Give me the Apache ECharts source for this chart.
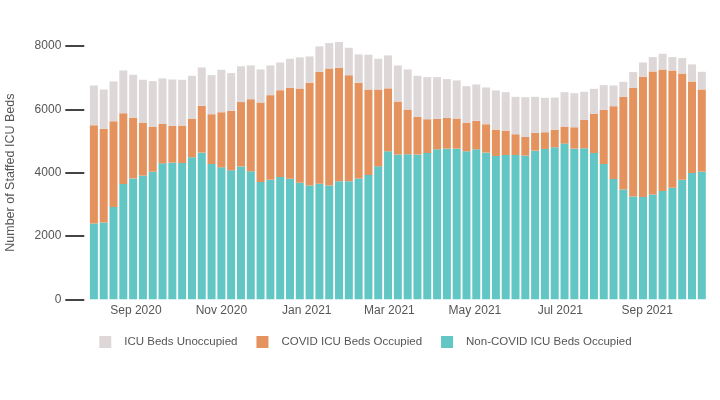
<!DOCTYPE html>
<html>
<head>
<meta charset="utf-8">
<script src="https://cdn.jsdelivr.net/npm/echarts@6/dist/echarts.min.js"></script>
<style>
html,body{margin:0;padding:0;background:#fff;}
#chart{width:720px;height:400px;}
</style>
</head>
<body>
<div id="chart"></div>
<script>
const weeks = [
  '2020-08-02','2020-08-09','2020-08-16','2020-08-23','2020-08-30',
  '2020-09-06','2020-09-13','2020-09-20','2020-09-27',
  '2020-10-04','2020-10-11','2020-10-18','2020-10-25',
  '2020-11-01','2020-11-08','2020-11-15','2020-11-22','2020-11-29',
  '2020-12-06','2020-12-13','2020-12-20','2020-12-27',
  '2021-01-03','2021-01-10','2021-01-17','2021-01-24','2021-01-31',
  '2021-02-07','2021-02-14','2021-02-21','2021-02-28',
  '2021-03-07','2021-03-14','2021-03-21','2021-03-28',
  '2021-04-04','2021-04-11','2021-04-18','2021-04-25',
  '2021-05-02','2021-05-09','2021-05-16','2021-05-23','2021-05-30',
  '2021-06-06','2021-06-13','2021-06-20','2021-06-27',
  '2021-07-04','2021-07-11','2021-07-18','2021-07-25',
  '2021-08-01','2021-08-08','2021-08-15','2021-08-22','2021-08-29',
  '2021-09-05','2021-09-12','2021-09-19','2021-09-26',
  '2021-10-03','2021-10-10'
];
const nonCovidOccupied = [
  2395,2426,2912,3640,3819,3904,4030,4294,4315,4305,4484,4632,4273,4167,4072,4195,
  4041,3703,3777,3862,3809,3682,3598,3651,3598,3725,3725,3819,3925,4199,4674,4569,
  4579,4569,4621,4737,4758,4758,4674,4737,4632,4526,4558,4558,4537,4695,4748,4801,
  4917,4758,4769,4621,4273,3798,3471,3250,3229,3313,3419,3524,3777,3988,4030
];
const covidOccupied = [
  3102,2955,2712,2237,1921,1678,1425,1246,1161,1182,1225,1477,1573,1742,1879,2035,
  2279,2512,2670,2743,2870,2976,3239,3535,3693,3588,3355,3018,2702,2428,1989,1678,
  1415,1192,1067,961,972,951,908,898,897,834,771,655,591,560,528,549,
  538,676,897,1235,1710,2301,2923,3429,3799,3884,3841,3704,3356,2892,2597
];
const unoccupied = [
  1256,1246,1256,1351,1351,1351,1435,1435,1467,1446,1350,1214,1234,1340,1193,1130,
  1066,1045,939,876,918,982,834,802,802,812,865,897,1097,970,1040,1139,
  1266,1298,1329,1319,1224,1203,1150,1150,1161,1235,1213,1181,1255,1139,1087,1023,
  1087,1077,887,792,781,654,475,496,453,453,496,422,485,538,559
];
const yTicks = [0, 2000, 4000, 6000, 8000];
const monthNames = ['Jan','Feb','Mar','Apr','May','Jun','Jul','Aug','Sep','Oct','Nov','Dec'];
const seriesNames = ['ICU Beds Unoccupied','COVID ICU Beds Occupied','Non-COVID ICU Beds Occupied'];

const FONT = "'Liberation Sans', Arial, sans-serif";
const DAY = 86400000;
const toPairs = arr => arr.map((v, i) => [Date.parse(weeks[i]), v]);

const chart = echarts.init(document.getElementById('chart'), null, {renderer: 'canvas'});
chart.setOption({
  animation: false,
  textStyle: {fontFamily: FONT},
  grid: {left: 84.3, right: 8.6, top: 46, bottom: 100.7, containLabel: false, outerBoundsMode: 'none'},
  legend: {
    data: seriesNames,
    left: 94.3, top: 331,
    itemWidth: 12, itemHeight: 12, itemGap: 19,
    icon: 'rect',
    textStyle: {color: '#555', fontSize: 11.5, fontFamily: FONT, padding: [0,0,0,8]}
  },
  xAxis: {
    type: 'time',
    useUTC: true,
    min: Date.parse('2020-07-29'),
    max: Date.parse('2021-10-14'),
    minInterval: 61 * DAY,
    maxInterval: 61 * DAY,
    axisLine: {show: false},
    axisTick: {show: false},
    splitLine: {show: false},
    axisLabel: {
      color: '#555', fontSize: 12, fontFamily: FONT, margin: 5,
      showMinLabel: false, showMaxLabel: false,
      formatter: function (v) {
        const d = new Date(v);
        if (d.getUTCDate() !== 1 || d.getUTCMonth() % 2 !== 0) return '';
        return monthNames[d.getUTCMonth()] + ' ' + d.getUTCFullYear();
      }
    }
  },
  yAxis: {
    type: 'value',
    min: yTicks[0], max: yTicks[yTicks.length - 1], interval: 2000,
    name: 'Number of Staffed ICU Beds',
    nameLocation: 'middle',
    nameGap: 67,
    nameTextStyle: {color: '#555', fontSize: 12.5, fontFamily: FONT},
    axisLine: {show: false},
    axisTick: {show: true, length: 19, lineStyle: {color: '#444', width: 2}},
    splitLine: {show: false},
    axisLabel: {color: '#555', fontSize: 12, fontFamily: FONT, margin: 23,
      formatter: v => String(v)}
  },
  series: [
    {name: seriesNames[2], type: 'bar', stack: 'beds', barWidth: 8, clip: false,
     itemStyle: {color: '#61c6c4'}, data: toPairs(nonCovidOccupied)},
    {name: seriesNames[1], type: 'bar', stack: 'beds', barWidth: 8, clip: false,
     itemStyle: {color: '#e4935f'}, data: toPairs(covidOccupied)},
    {name: seriesNames[0], type: 'bar', stack: 'beds', barWidth: 8, clip: false,
     itemStyle: {color: '#ddd7d8'}, data: toPairs(unoccupied)}
  ]
});
</script>
</body>
</html>
